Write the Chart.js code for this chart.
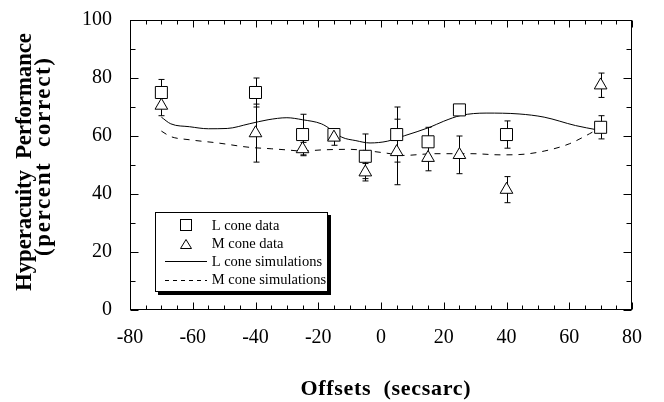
<!DOCTYPE html>
<html>
<head>
<meta charset="utf-8">
<script src="https://cdn.jsdelivr.net/npm/chart.js@4.4.0/dist/chart.umd.min.js"></script>
<style>
  html, body { margin: 0; padding: 0; background: #fff; }
  #wrap { width: 664px; height: 402px; }
</style>
</head>
<body>
<div id="wrap"><canvas id="chart" width="664" height="402"></canvas></div>
<script>
// measured data points (offset in secsarc, percent correct)
const xOffsets = [-70, -40, -25, -15, -5, 5, 15, 25, 40, 70];
const lConeData = [75, 75, 60.5, 60.5, 53, 60.5, 58, 69, 60.5, 63];
const lConeErr = [4.5, 5, 7, 2, 7.7, 9.5, 5, 0, 4.7, 4];
const mConeData = [70.5, 61, 55.5, 59.5, 47.5, 54.5, 52.5, 53.5, 41.5, 77.5];
const mConeErr = [3.5, 10, 2.3, 2.7, 3, 11.3, 4.5, 6.5, 4.5, 4.2];

// simulation curves
const lSimX = [-70, -67, -61, -55, -49, -42, -36, -30, -25, -19, -16, -12.5, -8, -3.5, 2, 7.5, 15.5, 20, 25.5, 33.5, 44, 52, 62, 69];
const lConeSim = [66.5, 64.2, 63.2, 62.5, 62.6, 64.2, 65.6, 66.3, 65.6, 64.2, 62.3, 59.6, 58.4, 57.6, 58.2, 60.1, 63, 65.1, 67.1, 67.9, 67.6, 66.5, 63.6, 62.1];
const mSimX = [-70, -67, -61, -52, -42, -35, -30, -25, -19, -10, -3.5, 3, 7, 17, 29, 38, 44, 52, 60, 66.5, 69.3];
const mConeSim = [61.7, 59.8, 58.7, 57.6, 56.1, 55.6, 55.2, 54.8, 55.2, 55.4, 54.8, 53.9, 53.3, 53.9, 53.9, 53.5, 53.6, 54.8, 57.3, 60.8, 62.5];

const xTicks = [-80, -60, -40, -20, 0, 20, 40, 60, 80];
const yTicks = [0, 20, 40, 60, 80, 100];

const legendItems = ['L cone data', 'M cone data', 'L cone simulations', 'M cone simulations'];
const xTitle = 'Offsets  (secsarc)';
const yTitle = ['Hyperacuity  Performance', '(percent  correct)'];

const SERIF = "'Liberation Serif', 'Times New Roman', serif";
Chart.defaults.font.family = SERIF;
Chart.defaults.color = '#000';

const pts = (xs, ys) => xs.map((x, i) => ({ x: x, y: ys[i] }));

// error bars behind the markers
const errorBars = {
  id: 'errorBars',
  beforeDatasetsDraw(chart) {
    const ctx = chart.ctx, xs = chart.scales.x, ys = chart.scales.y;
    ctx.save();
    ctx.strokeStyle = '#000';
    ctx.lineWidth = 1;
    const draw = (vals, errs) => {
      xOffsets.forEach((x, i) => {
        if (!errs[i]) return;
        const px = Math.round(xs.getPixelForValue(x)) + 0.5;
        const top = ys.getPixelForValue(vals[i] + errs[i]);
        const bot = ys.getPixelForValue(vals[i] - errs[i]);
        ctx.beginPath();
        ctx.moveTo(px, top); ctx.lineTo(px, bot);
        ctx.moveTo(px - 3, top); ctx.lineTo(px + 3, top);
        ctx.moveTo(px - 3, bot); ctx.lineTo(px + 3, bot);
        ctx.stroke();
      });
    };
    draw(lConeData, lConeErr);
    draw(mConeData, mConeErr);
    ctx.restore();
  }
};

// box frame with inward ticks on all four sides
const frame = {
  id: 'frame',
  afterDraw(chart) {
    const ctx = chart.ctx, a = chart.chartArea, xs = chart.scales.x, ys = chart.scales.y;
    const L = Math.round(a.left) + 0.5, R = Math.round(a.right) - 0.5;
    const T = Math.round(a.top) + 0.5, B = Math.round(a.bottom) - 0.5;
    ctx.save();
    ctx.strokeStyle = '#000';
    ctx.lineWidth = 1;
    ctx.strokeRect(L, T, R - L, B - T);
    ctx.beginPath();
    for (let v = -80; v <= 80; v += 5) {
      const px = Math.round(xs.getPixelForValue(v)) + 0.5;
      const len = v % 20 === 0 ? 7 : 4;
      ctx.moveTo(px, B); ctx.lineTo(px, B - len);
      ctx.moveTo(px, T); ctx.lineTo(px, T + len);
    }
    for (let v = 0; v <= 100; v += 10) {
      const py = Math.round(ys.getPixelForValue(v)) + 0.5;
      const len = v % 20 === 0 ? 8 : 5;
      ctx.moveTo(L, py); ctx.lineTo(L + len, py);
      ctx.moveTo(R, py); ctx.lineTo(R - len, py);
    }
    ctx.stroke();
    ctx.restore();
  }
};

function fitText(ctx, text, x, y, target) {
  ctx.letterSpacing = '0px';
  const w = ctx.measureText(text).width;
  const sp = (target - w) / (text.length - 1);
  ctx.letterSpacing = sp.toFixed(2) + 'px';
  ctx.textAlign = 'left';
  ctx.fillText(text, x - target / 2, y);
  ctx.letterSpacing = '0px';
}

// axis titles and boxed legend
const extras = {
  id: 'extras',
  afterDraw(chart) {
    const ctx = chart.ctx;
    ctx.save();
    ctx.fillStyle = '#000';
    ctx.textBaseline = 'alphabetic';
    ctx.font = 'bold 22px ' + SERIF;
    fitText(ctx, xTitle, 385.5, 395, 170);
    ctx.font = 'bold 23px ' + SERIF;
    ctx.save();
    ctx.translate(31, 162);
    ctx.rotate(-Math.PI / 2);
    fitText(ctx, yTitle[0], 0, 0, 258);
    ctx.restore();
    ctx.save();
    ctx.translate(49.5, 157);
    ctx.rotate(-Math.PI / 2);
    fitText(ctx, yTitle[1], 0, 0, 198);
    ctx.restore();

    // legend box with shadow
    ctx.fillRect(158, 215, 173, 80);
    ctx.fillStyle = '#fff';
    ctx.fillRect(155, 212, 173, 80);
    ctx.strokeStyle = '#000';
    ctx.lineWidth = 1;
    ctx.strokeRect(155.5, 212.5, 172, 79);

    const rows = [229.5, 247.8, 266, 284.3];
    // square
    ctx.strokeRect(180.5, 219.5, 11, 11);
    // triangle
    ctx.beginPath();
    ctx.moveTo(186, 239.5); ctx.lineTo(191.5, 248.5); ctx.lineTo(180.5, 248.5); ctx.closePath();
    ctx.stroke();
    // solid line
    ctx.beginPath();
    ctx.moveTo(165, 261.5); ctx.lineTo(207, 261.5);
    ctx.stroke();
    // dashed line
    ctx.setLineDash([4, 4]);
    ctx.beginPath();
    ctx.moveTo(165, 280.5); ctx.lineTo(207, 280.5);
    ctx.stroke();
    ctx.setLineDash([]);

    ctx.fillStyle = '#000';
    ctx.font = '14.5px ' + SERIF;
    ctx.textAlign = 'left';
    legendItems.forEach((t, i) => ctx.fillText(t, 211.7, rows[i]));
    ctx.restore();
  }
};

const ctx = document.getElementById('chart').getContext('2d');

new Chart(ctx, {
  type: 'scatter',
  data: {
    datasets: [
      {
        label: 'L cone simulations',
        data: pts(lSimX, lConeSim),
        showLine: true,
        borderColor: '#000',
        borderWidth: 1,
        pointRadius: 0,
        cubicInterpolationMode: 'monotone',
        order: 4
      },
      {
        label: 'M cone simulations',
        data: pts(mSimX, mConeSim),
        showLine: true,
        borderColor: '#000',
        borderWidth: 1,
        borderDash: [6, 6],
        pointRadius: 0,
        cubicInterpolationMode: 'monotone',
        order: 3
      },
      {
        label: 'L cone data',
        data: pts(xOffsets, lConeData),
        pointStyle: 'rect',
        pointRadius: 8.5,
        pointBorderWidth: 1,
        borderColor: '#000',
        backgroundColor: '#fff',
        order: 2
      },
      {
        label: 'M cone data',
        data: pts(xOffsets, mConeData),
        pointStyle: 'triangle',
        pointRadius: 7.3,
        pointBorderWidth: 1,
        borderColor: '#000',
        backgroundColor: '#fff',
        order: 1
      }
    ]
  },
  options: {
    responsive: false,
    animation: false,
    devicePixelRatio: 1,
    layout: { padding: { top: 20, right: 32, left: 0, bottom: 0 } },
    plugins: {
      legend: { display: false },
      tooltip: { enabled: false }
    },
    scales: {
      x: {
        type: 'linear',
        min: -80,
        max: 80,
        afterFit: s => { s.height = 92; s.paddingLeft = 0; s.paddingRight = 0; },
        afterBuildTicks: s => { s.ticks = xTicks.map(v => ({ value: v })); },
        grid: { display: false, drawTicks: false },
        border: { display: false },
        ticks: { padding: 16, font: { size: 20 }, color: '#000' }
      },
      y: {
        type: 'linear',
        min: 0,
        max: 100,
        afterFit: s => { s.width = 130; s.paddingTop = 0; s.paddingBottom = 0; },
        afterBuildTicks: s => { s.ticks = yTicks.map(v => ({ value: v })); },
        grid: { display: false, drawTicks: false },
        border: { display: false },
        ticks: { padding: 18, font: { size: 20 }, color: '#000' }
      }
    }
  },
  plugins: [errorBars, frame, extras]
});
</script>
</body>
</html>
